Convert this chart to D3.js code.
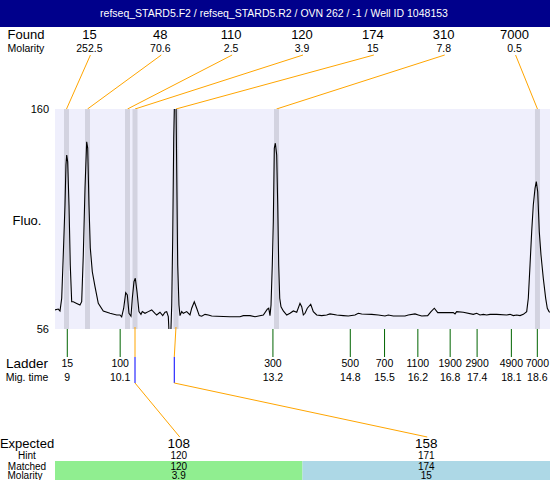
<!DOCTYPE html>
<html><head><meta charset="utf-8">
<script src="https://cdn.jsdelivr.net/npm/d3@7"></script>
<style>body{margin:0;background:#fff}svg{display:block;font-family:"Liberation Sans",Arial,sans-serif}</style>
</head><body><svg id="c" width="550" height="480"></svg>
<script>
const title = "refseq_STARD5.F2 / refseq_STARD5.R2 / OVN 262 / -1  / Well ID 1048153";
// found peaks
const foundSize = [15, 48, 110, 120, 174, 310, 7000];
const foundMolarity = ["252.5", "70.6", "2.5", "3.9", "15", "7.8", "0.5"];
const foundTime = [8.984, 9.413, 10.23, 10.383, 11.22, 13.273, 18.603];
// ladder
const ladderSize = [15, 100, 300, 500, 700, 1100, 1900, 2900, 4900, 7000];
const ladderTime = [9.0, 10.08, 13.2, 14.78, 15.48, 16.16, 16.82, 17.37, 18.07, 18.6];
const ladderTimeLabel = ["9", "10.1", "13.2", "14.8", "15.5", "16.2", "16.8", "17.4", "18.1", "18.6"];
// expected
const expectedSize = [108, 158];
const expectedTime = [10.383, 11.185];
const expectedMatchIdx = [3, 4];
const hintSize = [120, 171];
const matchedSize = [120, 174];
const matchedMolarity = ["3.9", "15"];
const matchedColor = ["#90ee90", "#add8e6"];
// y axis
const yTicks = [56, 160];
// electropherogram trace
const traceTime = [8.749,8.816,8.851,8.886,8.918,8.953,8.973,8.988,9.008,9.035,9.061,9.090,9.123,9.192,9.259,9.294,9.327,9.362,9.396,9.417,9.443,9.470,9.511,9.566,9.633,9.735,9.872,10.009,10.076,10.111,10.152,10.193,10.226,10.260,10.301,10.328,10.362,10.389,10.424,10.464,10.505,10.532,10.587,10.654,10.724,10.791,10.826,10.893,10.949,10.996,11.030,11.063,11.083,11.112,11.133,11.153,11.174,11.194,11.21,11.22,11.235,11.255,11.281,11.302,11.337,11.369,11.439,11.506,11.541,11.594,11.643,11.696,11.745,11.813,11.880,11.949,12.052,12.323,12.527,12.595,12.732,12.834,13.004,13.085,13.114,13.140,13.161,13.187,13.208,13.228,13.249,13.277,13.298,13.318,13.339,13.365,13.412,13.482,13.549,13.617,13.686,13.753,13.788,13.821,13.856,13.902,13.972,14.025,14.094,14.196,14.298,14.366,14.503,14.637,14.739,14.876,14.944,15.013,15.217,15.352,15.489,15.556,15.659,15.898,15.965,16.102,16.169,16.239,16.361,16.429,16.496,16.566,16.647,16.782,16.884,16.919,16.953,17.088,17.292,17.362,17.429,17.497,17.566,17.634,17.770,17.975,18.042,18.110,18.179,18.247,18.314,18.383,18.416,18.451,18.485,18.518,18.553,18.579,18.608,18.640,18.675,18.722,18.771,18.804,18.839,18.859];
const traceFluo = [64.8,65.2,64.3,70.3,90.8,114.5,133.5,138.2,135.0,114.5,86.1,68.7,68.7,67.9,67.1,68.7,90.8,122.6,144.5,141.5,114.5,94.1,82.9,75.8,67.9,64.3,63.2,62.4,62.4,61.5,65.6,73.0,71.9,63.2,61.8,70.3,78.2,79.8,73.4,64.0,62.7,64.0,63.2,64.0,64.8,63.2,62.4,63.7,62.1,63.7,64.0,61.6,52,52,67.1,98.9,146.3,168,172,165,130.3,86.1,67.1,62.1,64.0,63.2,64.0,62.4,65.6,68.7,65.6,62.1,61.8,62.7,62.4,61.9,61.8,61.6,61.6,62.1,62.1,61.6,62.4,65.2,65.6,62.1,67.1,86.1,106.6,141.4,143.8,138.2,114.5,86.1,70.3,66.3,64.3,62.4,63.2,64.3,63.7,67.9,66.3,62.4,63.2,65.6,67.5,64.0,62.4,62.1,62.4,62.9,62.4,62.1,61.9,62.4,63.2,62.9,62.7,62.4,61.9,62.4,61.9,61.9,62.4,62.9,62.4,61.9,62.1,64.0,65.6,63.5,63.5,63.5,63.5,62.9,64.0,63.7,62.7,63.2,62.4,62.7,62.4,62.7,62.7,62.4,62.7,62.1,62.4,62.1,62.7,64.0,70.3,86.1,101.9,114.5,122.4,125.6,120.8,101.9,90.8,79.8,70.3,65.6,64.0,63.7];

const svg = d3.select("#c");
const L = 55, R = 550, T = 109, B = 329;
const x = d3.scaleLinear().domain([8.749, 18.859]).range([L, R]);
const y = d3.scaleLinear().domain([56, 160]).range([B - 0.5, T]);
const labelX = 27;

// header
svg.append("rect").attr("x",0).attr("y",0).attr("width",550).attr("height",27).attr("fill","#00008b");
svg.append("text").attr("x",274).attr("y",17).attr("text-anchor","middle").attr("fill","#fff")
  .attr("font-size","10.5px").text(title);

// found rows
const col = d3.scaleBand().domain(d3.range(foundSize.length)).range([54, 550]);
svg.append("text").attr("x",labelX-1).attr("y",38.5).attr("text-anchor","middle").attr("font-size","13px").text("Found");
svg.append("text").attr("x",labelX-1).attr("y",51.5).attr("text-anchor","middle").attr("font-size","10.5px").text("Molarity");
foundSize.forEach((s,i)=>{
  const cx = col(i) + col.bandwidth()/2;
  svg.append("text").attr("x",cx).attr("y",38.5).attr("text-anchor","middle").attr("font-size","13px").text(s);
  svg.append("text").attr("x",cx).attr("y",51.5).attr("text-anchor","middle").attr("font-size","10.5px").text(foundMolarity[i]);
  svg.append("line").attr("x1",cx+1).attr("y1",55).attr("x2",x(foundTime[i])).attr("y2",T)
    .attr("stroke","#ffa500").attr("stroke-width",1);
});

// plot area
svg.append("rect").attr("x",L).attr("y",T).attr("width",R-L).attr("height",B-T).attr("fill","#efeffc");
svg.selectAll(".band").data(foundTime).join("rect").attr("x",d=>x(d)-2.5).attr("y",T)
  .attr("width",5).attr("height",B-T).attr("fill","#d3d3e0");
svg.append("clipPath").attr("id","clip").append("rect").attr("x",L).attr("y",T).attr("width",R-L).attr("height",B-T);
const pts = traceTime.map((t,i)=>[t, traceFluo[i]]);
svg.append("path").attr("d", d3.line().x(d=>x(d[0])).y(d=>y(d[1]))(pts))
  .attr("fill","none").attr("stroke","#000").attr("stroke-width",1.1).attr("clip-path","url(#clip)");

// y labels
yTicks.forEach(v=>{
  svg.append("text").attr("x",49).attr("y",y(v)+4).attr("text-anchor","end").attr("font-size","11px").text(v);
});
svg.append("text").attr("x",labelX).attr("y",225).attr("text-anchor","middle").attr("font-size","13px").text("Fluo.");

// ladder
const tickEnd = 357;
svg.selectAll(".lt").data(ladderTime).join("line").attr("x1",d=>x(d)).attr("x2",d=>x(d))
  .attr("y1",B).attr("y2",tickEnd).attr("stroke","#006400").attr("stroke-width",1);
svg.append("text").attr("x",labelX).attr("y",368).attr("text-anchor","middle").attr("font-size","13.5px").text("Ladder");
svg.append("text").attr("x",labelX).attr("y",380.5).attr("text-anchor","middle").attr("font-size","10.5px").text("Mig. time");
ladderSize.forEach((s,i)=>{
  svg.append("text").attr("x",x(ladderTime[i])).attr("y",367).attr("text-anchor","middle").attr("font-size","10.5px").text(s);
  svg.append("text").attr("x",x(ladderTime[i])).attr("y",380.5).attr("text-anchor","middle").attr("font-size","10.5px").text(ladderTimeLabel[i]);
});

// expected
const ecol = d3.scaleBand().domain(d3.range(expectedSize.length)).range([L, R]);
svg.append("text").attr("x",labelX).attr("y",448).attr("text-anchor","middle").attr("font-size","13px").text("Expected");
svg.append("text").attr("x",labelX).attr("y",459).attr("text-anchor","middle").attr("font-size","10px").text("Hint");
expectedSize.forEach((s,i)=>{
  const cx = ecol(i) + ecol.bandwidth()/2;
  svg.append("rect").attr("x",ecol(i)).attr("y",461).attr("width",ecol.bandwidth()).attr("height",19).attr("fill",matchedColor[i]);
  const ex = x(expectedTime[i]), mx = x(foundTime[expectedMatchIdx[i]]);
  svg.append("line").attr("x1",mx).attr("y1",B-2).attr("x2",ex).attr("y2",tickEnd).attr("stroke","#ffa500");
  svg.append("line").attr("x1",ex).attr("y1",tickEnd).attr("x2",ex).attr("y2",383).attr("stroke","#0000ff");
  svg.append("line").attr("x1",ex).attr("y1",383).attr("x2",cx+1).attr("y2",437).attr("stroke","#ffa500");
  svg.append("text").attr("x",cx).attr("y",448).attr("text-anchor","middle").attr("font-size","13.5px").text(s);
  svg.append("text").attr("x",cx).attr("y",459).attr("text-anchor","middle").attr("font-size","10px").text(hintSize[i]);
  svg.append("text").attr("x",cx).attr("y",469.5).attr("text-anchor","middle").attr("font-size","10px").text(matchedSize[i]);
  svg.append("text").attr("x",cx).attr("y",479).attr("text-anchor","middle").attr("font-size","10px").text(matchedMolarity[i]);
});
svg.append("text").attr("x",labelX).attr("y",469.5).attr("text-anchor","middle").attr("font-size","10px").text("Matched");
svg.append("text").attr("x",labelX-2).attr("y",479).attr("text-anchor","middle").attr("font-size","10px").text("Molarity");
</script></body></html>
